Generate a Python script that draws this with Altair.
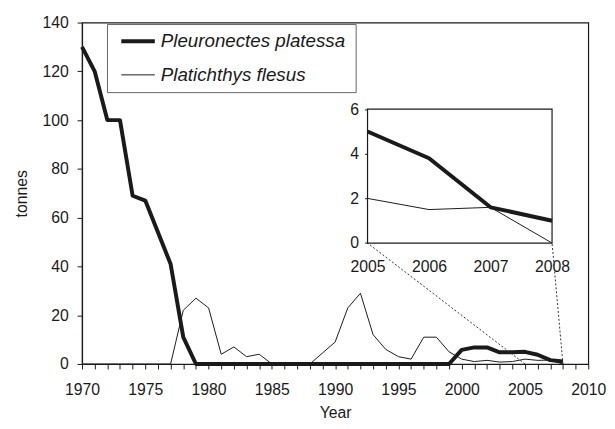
import altair as alt
import pandas as pd

# ---------------- data ----------------
years = list(range(1970, 2009))
plaice = [130, 120, 100, 100, 69, 67, 54, 41, 11, 0,
          0, 0, 0, 0, 0, 0, 0, 0, 0, 0,
          0, 0, 0, 0, 0, 0, 0, 0, 0, 0,
          5.8, 6.8, 6.8, 4.8, 4.8, 5.0, 3.8, 1.6, 1.0]
flounder = [0, 0, 0, 0, 0, 0, 0, 0, 22, 27,
            23, 4, 7, 3, 4, 0, 0, 0, 0, 4.5,
            9, 23, 29, 12, 6, 3, 2, 11, 11, 5,
            2, 1, 1.5, 0.8, 1, 2, 1.5, 1.6, 0]
series_names = ["Pleuronectes platessa", "Platichthys flesus"]
x_ticks = list(range(1970, 2011))
y_ticks = list(range(0, 141, 20))
inset_years = [2005, 2006, 2007, 2008]
inset_y_ticks = [0, 2, 4, 6]

# ---------------- layout ----------------
W, H = 513, 346
X_DOM = [1970, 2010]
Y_DOM = [0, 140]
INSET_X = [1992.56, 2007.14]   # inset box expressed in main-axis years
INSET_Y = [49.6, 104.5]        # inset box expressed in main-axis tonnes


def px_x(v):
    return (v - X_DOM[0]) / (X_DOM[1] - X_DOM[0]) * W


def px_y(v):
    return H - (v - Y_DOM[0]) / (Y_DOM[1] - Y_DOM[0]) * H


inset_xrange = [px_x(INSET_X[0]), px_x(INSET_X[1])]
inset_yrange = [px_y(INSET_Y[0]), px_y(INSET_Y[1])]

rows = []
for i, y in enumerate(years):
    rows.append({"year": y, "tonnes": plaice[i], "series": series_names[0]})
    rows.append({"year": y, "tonnes": flounder[i], "series": series_names[1]})
df = pd.DataFrame(rows)
df_inset = df[df["year"] >= inset_years[0]]

INK = "#1a1a1a"
FONT = "Liberation Sans"

sw_scale = alt.Scale(domain=series_names, range=[4, 1], type="ordinal")
legend = alt.Legend(
    title="\u00a0", titleOrient="right", titlePadding=10, titleFontSize=4,
    orient="none", legendX=25.3, legendY=1.5,
    symbolType="stroke", symbolSize=1156, symbolStrokeColor=INK,
    symbolFillColor="transparent", symbolOffset=12,
    labelFont=FONT, labelFontSize=19, labelFontStyle="italic", labelColor=INK,
    labelOffset=4, labelLimit=0, rowPadding=-1, padding=0.5, clipHeight=34,
    strokeColor="#666", fillColor="white",
)

x_axis = alt.Axis(values=x_ticks, format="d",
                  labelExpr="datum.value % 5 == 0 ? datum.label : ''",
                  tickSize=5, labelPadding=13, titlePadding=7,
                  labelFlush=False, labelOverlap=False)
y_axis = alt.Axis(values=y_ticks, tickSize=5, labelPadding=9, titlePadding=13)

x_main = alt.X("year:Q", title="Year",
               scale=alt.Scale(domain=X_DOM, nice=False, zero=False), axis=x_axis)
y_main = alt.Y("tonnes:Q", title="tonnes",
               scale=alt.Scale(domain=Y_DOM, nice=False), axis=y_axis)

main_lines = alt.Chart(df).mark_line(color=INK, strokeJoin="round").encode(
    x=x_main, y=y_main,
    strokeWidth=alt.StrokeWidth("series:N", scale=sw_scale, legend=legend),
    detail="series:N",
)

# dotted connectors from the main axis to the inset corners (main scales)
conn = pd.DataFrame({
    "year": [inset_years[0], inset_years[-1]],
    "tonnes": [0, 0],
    "x2": [INSET_X[0], INSET_X[1]],
    "y2": [INSET_Y[0], INSET_Y[0]],
})
connectors = alt.Chart(conn).mark_rule(color="#333", strokeDash=[2, 2], strokeWidth=1).encode(
    x=alt.X("year:Q", title="Year", axis=x_axis),
    y=alt.Y("tonnes:Q", title="tonnes", axis=y_axis),
    x2="x2:Q", y2="y2:Q",
)

main = alt.layer(main_lines, connectors)

# ---------------- inset ----------------
x_in = alt.X("year:Q", title=None,
             scale=alt.Scale(domain=[inset_years[0], inset_years[-1]],
                             range=inset_xrange, nice=False, zero=False),
             axis=alt.Axis(orient="bottom", offset=-(H - inset_yrange[0]),
                           values=inset_years, format="d", domain=False,
                           ticks=False, labelPadding=16, grid=False,
                           labelFlush=False, labelOverlap=False))
y_in = alt.Y("tonnes:Q", title=None,
             scale=alt.Scale(domain=[0, 6], range=inset_yrange, nice=False),
             axis=alt.Axis(orient="left", offset=-inset_xrange[0],
                           values=inset_y_ticks, domain=False, tickSize=3,
                           labelPadding=6, grid=False))

inset_lines = alt.Chart(df_inset).mark_line(color=INK, strokeJoin="round").encode(
    x=x_in, y=y_in,
    strokeWidth=alt.StrokeWidth("series:N", scale=sw_scale, legend=legend),
    detail="series:N",
)
frame_df = pd.DataFrame({"year": [inset_years[0]], "x2": [inset_years[-1]],
                         "tonnes": [inset_y_ticks[0]], "y2": [inset_y_ticks[-1]]})
inset_frame = alt.Chart(frame_df).mark_rect(fill=None, stroke=INK, strokeWidth=1.2).encode(
    x=x_in, x2="x2:Q", y=y_in, y2="y2:Q",
)
inset = alt.layer(inset_frame, inset_lines)

chart = alt.layer(main, inset).resolve_scale(
    x="independent", y="independent"
).properties(
    width=W, height=H,
    autosize=alt.AutoSizeParams(type="none"),
    padding={"left": 75, "top": 12, "right": 19, "bottom": 55},
).configure_view(
    stroke=INK, strokeWidth=1.2
).configure_axis(
    grid=False, labelFont=FONT, titleFont=FONT, labelFontSize=16,
    titleFontSize=16, titleFontWeight="normal", labelColor=INK,
    titleColor=INK, domainColor=INK, tickColor=INK, domainWidth=1.2,
)

chart.save("out.html", embed_options={"renderer": "svg", "actions": False})
